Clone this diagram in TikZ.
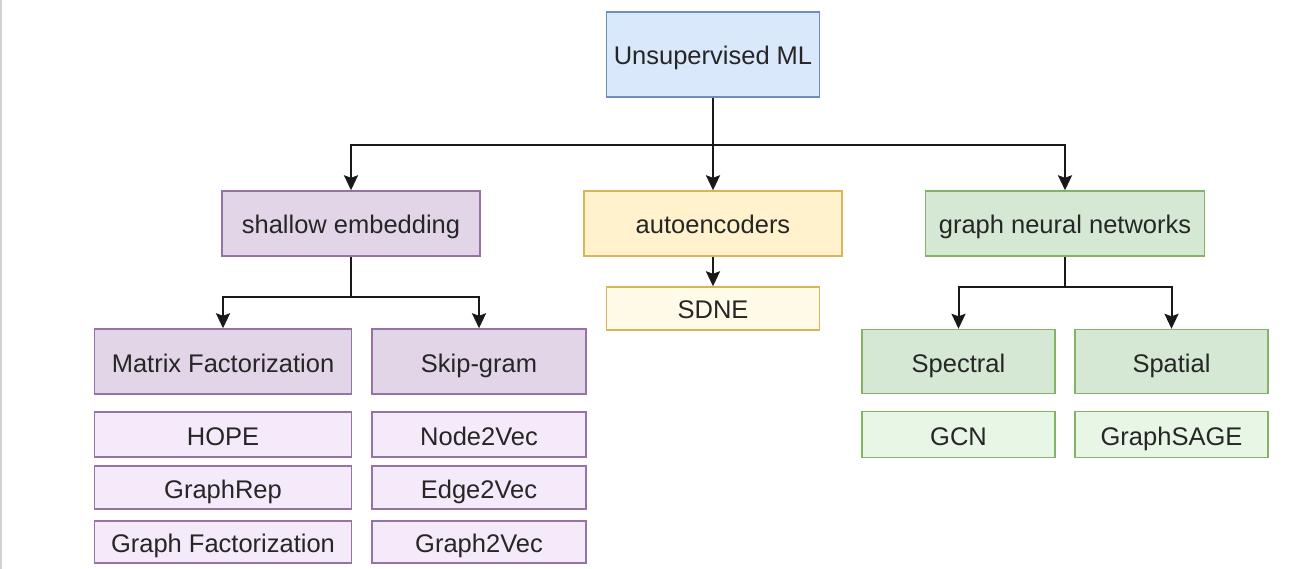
\documentclass[tikz,border=0pt]{standalone}
\usepackage{fontspec}
\setmainfont{Liberation Sans}
\usetikzlibrary{arrows.meta}

\definecolor{blueFill}{HTML}{DAE8FC}  \definecolor{blueLine}{HTML}{6C8EBF}
\definecolor{purpFill}{HTML}{E1D5E7}  \definecolor{purpLine}{HTML}{9673A6}
\definecolor{purpLite}{HTML}{F5EAFA}
\definecolor{yellFill}{HTML}{FFF2CC}  \definecolor{yellLine}{HTML}{D6B656}
\definecolor{yellLite}{HTML}{FFFBE8}
\definecolor{grenFill}{HTML}{D5E8D4}  \definecolor{grenLine}{HTML}{82B366}
\definecolor{grenLite}{HTML}{E8F6E5}

\tikzset{
  box/.style={draw,rectangle,line width=1.4pt,inner sep=0pt,text=black!85,
    text height=21pt,text depth=0pt,
    font=\fontsize{25.5}{30}\selectfont},
  rootbox/.style={box,fill=blueFill,draw=blueLine},
  purpbox/.style={box,fill=purpFill,draw=purpLine},
  purpleaf/.style={box,fill=purpLite,draw=purpLine},
  yellbox/.style={box,fill=yellFill,draw=yellLine},
  yellleaf/.style={box,fill=yellLite,draw=yellLine},
  grenbox/.style={box,fill=grenFill,draw=grenLine},
  grenleaf/.style={box,fill=grenLite,draw=grenLine},
  arr/.style={-{Stealth[length=15pt,width=14pt,inset=2.5pt]},line width=2pt,color=black!90}
}

\begin{document}
\begin{tikzpicture}[x=1pt,y=-1pt]
        \useasboundingbox (0,0) rectangle (1309,569);
        \draw[black!18,line width=1.5pt] (1,0) -- (1,569);
        % top level
        \node[rootbox,minimum width=213pt,minimum height=85pt] (root) at (713,54.5) {Unsupervised ML};
        \node[purpbox,minimum width=258pt,minimum height=65pt] (shallow) at (351,223.5) {shallow embedding};
        \node[yellbox,minimum width=258pt,minimum height=65pt] (auto) at (713,223.5) {autoencoders};
        \node[grenbox,minimum width=279pt,minimum height=65pt] (gnn) at (1065,223.5) {graph neural networks};
        \node[yellleaf,minimum width=213pt,minimum height=43pt] (sdne) at (713,308.5) {SDNE};
        % shallow embedding branch
        \node[purpbox,minimum width=257pt,minimum height=65pt] (mf) at (223,361.5) {Matrix Factorization};
        \node[purpbox,minimum width=214pt,minimum height=65pt] (skip) at (479,361.5) {Skip-gram};
        \node[purpleaf,minimum width=257pt,minimum height=45pt] (hope) at (223,434.5) {HOPE};
        \node[purpleaf,minimum width=257pt,minimum height=43pt] (grep) at (223,487.5) {GraphRep};
        \node[purpleaf,minimum width=257pt,minimum height=42pt] (gfac) at (223,542) {Graph Factorization};
        \node[purpleaf,minimum width=214pt,minimum height=45pt] (n2v) at (479,434.5) {Node2Vec};
        \node[purpleaf,minimum width=214pt,minimum height=43pt] (e2v) at (479,487.5) {Edge2Vec};
        \node[purpleaf,minimum width=214pt,minimum height=42pt] (g2v) at (479,542) {Graph2Vec};
        % gnn branch
        \node[grenbox,minimum width=193pt,minimum height=64pt] (spec) at (958.5,361.5) {Spectral};
        \node[grenbox,minimum width=193pt,minimum height=64pt] (spat) at (1171.5,361.5) {Spatial};
        \node[grenleaf,minimum width=193pt,minimum height=46pt] (gcn) at (958.5,434.5) {GCN};
        \node[grenleaf,minimum width=193pt,minimum height=46pt] (sage) at (1171.5,434.5) {GraphSAGE};
        % connectors
        \coordinate (topbar) at (713,145);
        \coordinate (sebar) at (351,297);
        \coordinate (gnnbar) at (1065,287);
        \draw[arr] (root.south) -- (topbar) -| (shallow.north);
        \draw[arr] (topbar) -| (gnn.north);
        \draw[arr] (topbar) -- (auto.north);
        \draw[arr] (auto.south) -- (sdne.north);
        \draw[arr] (shallow.south) -- (sebar) -| (mf.north);
        \draw[arr] (sebar) -| (skip.north);
        \draw[arr] (gnn.south) -- (gnnbar) -| (spec.north);
        \draw[arr] (gnnbar) -| (spat.north);
\end{tikzpicture}
\end{document}
